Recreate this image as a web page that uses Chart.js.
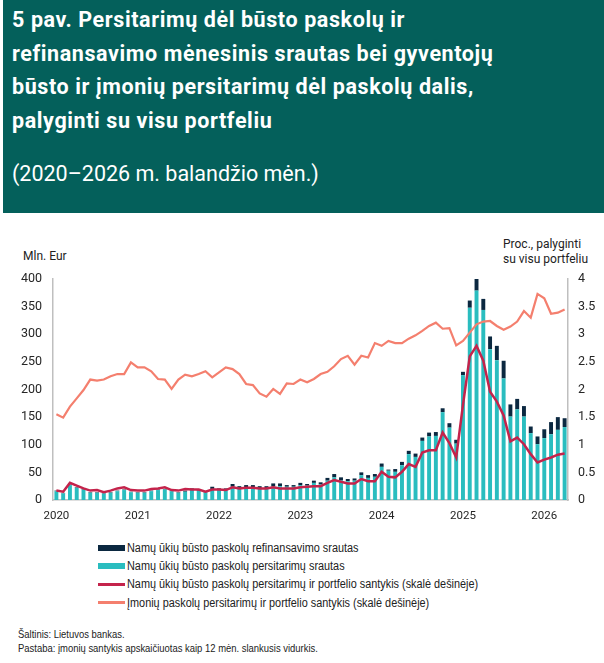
<!DOCTYPE html>
<html lang="lt">
<head>
<meta charset="utf-8">
<script src="https://cdn.jsdelivr.net/npm/chart.js@4.4.1/dist/chart.umd.min.js"></script>
<style>
  body { margin: 0; width: 604px; height: 663px; background: #fff; position: relative; overflow: hidden; font-family: Roboto, sans-serif; }
  #hdr { position: absolute; left: 3px; top: 0; width: 601px; height: 213px; background: #04605B; color: #fff; }
  #title { position: absolute; left: 9px; top: 3px; font-weight: bold; font-size: 21.5px; letter-spacing: 0.6px; line-height: 33.7px; white-space: nowrap; }
  #sub { position: absolute; left: 9px; top: 161px; font-size: 21.5px; white-space: nowrap; }
  #wrap { position: absolute; left: 0; top: 230px; width: 604px; height: 300px; }
  .atitle { position: absolute; font-size: 12px; color: #222; line-height: 15px; white-space: nowrap; }
  #legend { position: absolute; left: 98px; top: 539px; font-family: "Liberation Sans", sans-serif; font-size: 12.5px; color: #222; }
  .li { height: 18.2px; display: flex; align-items: center; white-space: nowrap; }
  .sw { width: 27px; margin-right: 2px; flex: none; }
  .lt { display: inline-block; transform: scaleX(0.87); transform-origin: left center; }
  #foot { position: absolute; left: 18px; top: 627px; font-family: "Liberation Sans", sans-serif; font-size: 10.5px; color: #222; line-height: 14px; white-space: nowrap; transform: scaleX(0.9); transform-origin: left top; }
</style>
</head>
<body>
<div id="hdr">
  <div id="title">5 pav. Persitarimų dėl būsto paskolų ir<br>refinansavimo mėnesinis srautas bei gyventojų<br>būsto ir įmonių persitarimų dėl paskolų dalis,<br>palyginti su visu portfeliu</div>
  <div id="sub">(2020–2026 m. balandžio mėn.)</div>
</div>

<div class="atitle" style="left:23px;top:249px;">Mln. Eur</div>
<div class="atitle" style="left:503px;top:237px;">Proc., palyginti<br>su visu portfeliu</div>

<div id="wrap"><canvas id="chart"></canvas></div>

<div id="legend">
  <div class="li"><span class="sw" style="height:6px;background:#0B2840"></span><span class="lt">Namų ūkių būsto paskolų refinansavimo srautas</span></div>
  <div class="li"><span class="sw" style="height:6px;background:#2ABDBF"></span><span class="lt">Namų ūkių būsto paskolų persitarimų srautas</span></div>
  <div class="li"><span class="sw" style="height:2.5px;background:#C4234B"></span><span class="lt">Namų ūkių būsto paskolų persitarimų ir portfelio santykis (skalė dešinėje)</span></div>
  <div class="li"><span class="sw" style="height:2.5px;background:#F47F6E"></span><span class="lt">Įmonių paskolų persitarimų ir portfelio santykis (skalė dešinėje)</span></div>
</div>

<div id="foot">Šaltinis: Lietuvos bankas.<br>Pastaba: įmonių santykis apskaičiuotas kaip 12 mėn. slankusis vidurkis.</div>

<script>
// months, 2020-01 .. 2026-04
const months = [
  '2020-01','2020-02','2020-03','2020-04','2020-05','2020-06','2020-07','2020-08','2020-09','2020-10','2020-11','2020-12',
  '2021-01','2021-02','2021-03','2021-04','2021-05','2021-06','2021-07','2021-08','2021-09','2021-10','2021-11','2021-12',
  '2022-01','2022-02','2022-03','2022-04','2022-05','2022-06','2022-07','2022-08','2022-09','2022-10','2022-11','2022-12',
  '2023-01','2023-02','2023-03','2023-04','2023-05','2023-06','2023-07','2023-08','2023-09','2023-10','2023-11','2023-12',
  '2024-01','2024-02','2024-03','2024-04','2024-05','2024-06','2024-07','2024-08','2024-09','2024-10','2024-11','2024-12',
  '2025-01','2025-02','2025-03','2025-04','2025-05','2025-06','2025-07','2025-08','2025-09','2025-10','2025-11','2025-12',
  '2026-01','2026-02','2026-03','2026-04'
];

// mln. Eur
const persitarimai = [
  16,12,27,22,19,13,13,12,13,16,18,14, 13,13,16,18,19,16,13,15,19,17,14,20,
  18,18,24,21,23,22,21,21,25,25,24,24, 27,26,31,28,35,41,36,34,35,45,40,42,
  60,53,51,63,83,78,107,115,116,159,131,102, 226,348,379,344,273,253,220,151,164,151,121,101,
  112,119,127,132
];
const refinansavimas = [
  1,1,1,1,1,1,1,1,1,1,1,1, 1,1,1,1,1,1,1,2,2,2,2,4,
  3,3,5,4,4,5,4,4,5,5,3,3, 4,3,4,4,5,6,5,4,4,5,5,5,
  6,2,5,6,6,6,6,7,7,7,8,7, 6,13,21,20,23,26,32,22,19,19,12,14,
  16,22,23,16
];

// proc.
const namuSantykis = [
  0.17,0.15,0.31,0.26,0.21,0.17,0.18,0.14,0.17,0.21,0.23,0.18,
  0.17,0.17,0.20,0.21,0.23,0.18,0.17,0.20,0.19,0.19,0.15,0.19,
  0.19,0.18,0.23,0.21,0.22,0.22,0.21,0.21,0.23,0.21,0.21,0.21,
  0.23,0.24,0.25,0.25,0.31,0.36,0.33,0.30,0.30,0.38,0.34,0.34,
  0.51,0.42,0.41,0.51,0.65,0.60,0.86,0.90,0.90,1.22,1.03,0.77,
  1.72,2.60,2.79,2.52,1.96,1.78,1.53,1.06,1.13,1.01,0.83,0.68,
  0.73,0.77,0.82,0.84
];
const imoniuSantykis = [
  1.55,1.49,1.69,1.84,1.99,2.18,2.16,2.18,2.24,2.28,2.28,2.49,
  2.40,2.40,2.33,2.19,2.18,2.01,2.18,2.27,2.24,2.28,2.33,2.22,
  2.31,2.40,2.37,2.28,2.10,2.08,1.93,1.87,2.01,1.92,2.11,2.10,
  2.18,2.13,2.19,2.28,2.32,2.42,2.55,2.61,2.45,2.61,2.58,2.84,
  2.79,2.88,2.84,2.84,2.92,2.98,3.06,3.15,3.21,3.10,3.11,2.80,
  2.88,3.03,3.18,3.23,3.24,3.15,3.08,3.14,3.23,3.42,3.30,3.73,
  3.65,3.37,3.39,3.45
];

const tickFont = { family: 'Roboto', size: 12.5 };
const axisGrey = '#BFBFBF';

new Chart(document.getElementById('chart'), {
  type: 'bar',
  data: {
    labels: months,
    datasets: [
      { type: 'line', label: 'Namų', data: namuSantykis, yAxisID: 'y1', borderColor: '#C4234B', borderWidth: 2.5, pointRadius: 0, tension: 0 },
      { type: 'line', label: 'Įmonių', data: imoniuSantykis, yAxisID: 'y1', borderColor: '#F47F6E', borderWidth: 2.2, pointRadius: 0, tension: 0 },
      { label: 'Persitarimai', data: persitarimai, backgroundColor: '#2ABDBF', yAxisID: 'y', stack: 's', barPercentage: 0.58, categoryPercentage: 1 },
      { label: 'Refinansavimas', data: refinansavimas, backgroundColor: '#0B2840', yAxisID: 'y', stack: 's', barPercentage: 0.58, categoryPercentage: 1 }
    ]
  },
  options: {
    responsive: true,
    maintainAspectRatio: false,
    animation: false,
    layout: { padding: { top: 49, left: 0, right: 0, bottom: 0 } },
    plugins: { legend: { display: false }, tooltip: { enabled: false } },
    scales: {
      x: {
        stacked: true,
        grid: { display: false, drawTicks: false },
        border: { display: true, color: axisGrey, width: 1.5 },
        ticks: {
          autoSkip: false, maxRotation: 0, padding: 9, color: '#262626',
          font: { family: 'Roboto', size: 11.5 },
          callback: function (v) {
            const l = this.getLabelForValue(v);
            return l.endsWith('-01') ? l.slice(0, 4) : '';
          }
        },
        afterFit: s => { s.height = 30; }
      },
      y: {
        stacked: true, min: 0, max: 400,
        grid: { display: false, drawTicks: false },
        border: { display: true, color: axisGrey, width: 1.5 },
        ticks: { stepSize: 50, padding: 11, color: '#262626', font: tickFont },
        afterFit: s => { s.width = 53; }
      },
      y1: {
        position: 'right', min: 0, max: 4,
        grid: { display: false, drawTicks: false },
        border: { display: true, color: axisGrey, width: 1.5 },
        ticks: { stepSize: 0.5, padding: 10, color: '#262626', font: tickFont, callback: v => String(Math.round(v * 10) / 10) },
        afterFit: s => { s.width = 36; }
      }
    }
  }
});
</script>
</body>
</html>
